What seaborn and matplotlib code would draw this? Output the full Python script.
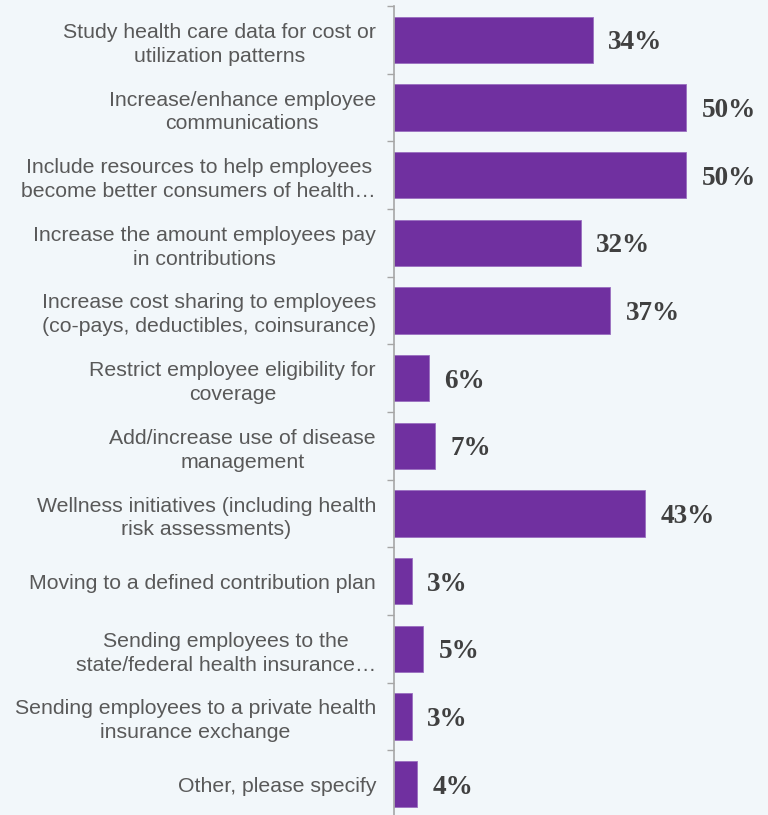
import matplotlib
matplotlib.use("Agg")
import matplotlib.pyplot as plt
from matplotlib.ticker import FixedLocator
import seaborn as sns
import pandas as pd

categories = [
    "Study health care data for cost or\nutilization patterns",
    "Increase/enhance employee\ncommunications",
    "Include resources to help employees\nbecome better consumers of health\u2026",
    "Increase the amount employees pay\nin contributions",
    "Increase cost sharing to employees\n(co-pays, deductibles, coinsurance)",
    "Restrict employee eligibility for\ncoverage",
    "Add/increase use of disease\nmanagement",
    "Wellness initiatives (including health\nrisk assessments)",
    "Moving to a defined contribution plan",
    "Sending employees to the\nstate/federal health insurance\u2026",
    "Sending employees to a private health\ninsurance exchange",
    "Other, please specify",
]
values = [34, 50, 50, 32, 37, 6, 7, 43, 3, 5, 3, 4]

df = pd.DataFrame({"category": categories, "value": values})

BG = "#F2F7FA"
BAR = "#7030A0"
AXIS = "#A6A6A6"

sns.set_theme(style="white")
plt.rcParams["font.family"] = ["Liberation Sans", "DejaVu Sans"]

fig = plt.figure(figsize=(7.68, 8.15), dpi=100, facecolor=BG)
ax = fig.add_axes([394 / 768, -3 / 815, 374 / 768, 812 / 815])
ax.set_facecolor(BG)

sns.barplot(data=df, x="value", y="category", orient="h", color=BAR,
            saturation=1, width=0.68, edgecolor="#9A6FC0", linewidth=0.6, ax=ax)

ax.set_xlim(0, 64)
ax.set_ylim(len(categories) - 0.5, -0.5)
ax.set_xlabel("")
ax.set_ylabel("")
ax.set_xticks([])

for s in ["top", "right", "bottom"]:
    ax.spines[s].set_visible(False)
ax.spines["left"].set_color(AXIS)
ax.spines["left"].set_linewidth(1.2)

# category labels centred line-by-line, block right of the axis
ax.tick_params(axis="y", which="major", length=0, pad=13, labelsize=15.3,
               labelcolor="#595959")
for lab in ax.get_yticklabels():
    lab.set_multialignment("center")
    lab.set_linespacing(1.32)

# boundary ticks between categories
ax.yaxis.set_minor_locator(FixedLocator([i - 0.5 for i in range(len(categories) + 1)]))
ax.tick_params(axis="y", which="minor", left=True, length=5, width=1.0, color=AXIS)

for cont in ax.containers:
    labels = ax.bar_label(cont, fmt="{:.0f}%", padding=11,
                          fontsize=19.5, fontweight="bold", color="#404040",
                          family=["Liberation Serif", "DejaVu Serif"])
    for t in labels:
        t.set_va("center_baseline")

fig.savefig("out.png", dpi=100, facecolor=BG)
